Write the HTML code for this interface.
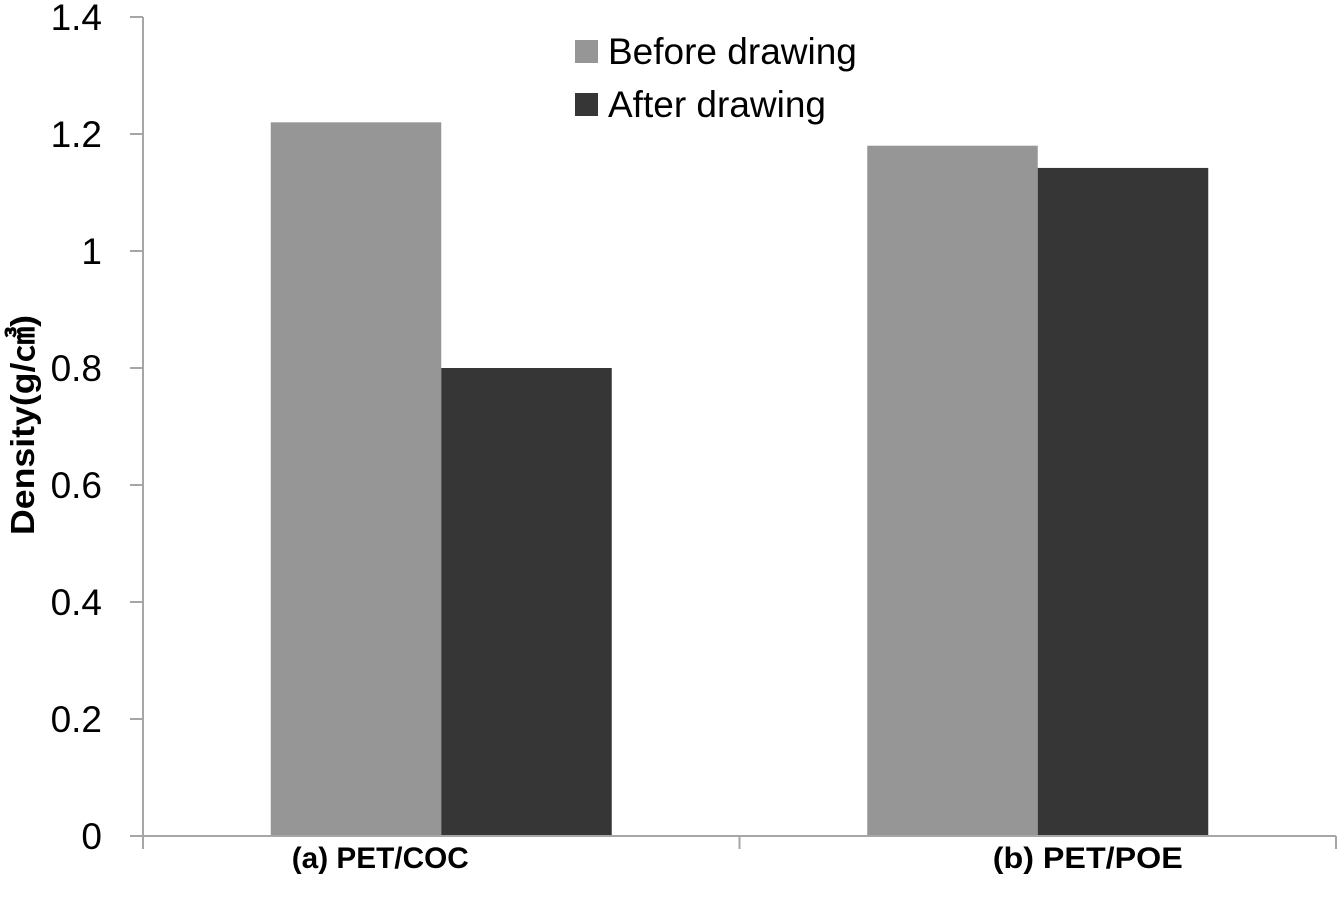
<!DOCTYPE html>
<html><head><meta charset="utf-8"><style>
html,body{margin:0;padding:0;background:#fff;}
svg{display:block;font-family:"Liberation Sans",sans-serif;}
</style></head><body>
<svg id="chart" width="1339" height="899"></svg>
<script>
const categories = ["(a) PET/COC", "(b) PET/POE"];
const beforeValues = [1.22, 1.18];
const afterValues = [0.80, 1.142];
const tickLabels = ["0", "0.2", "0.4", "0.6", "0.8", "1", "1.2", "1.4"];
const tickValues = [0, 0.2, 0.4, 0.6, 0.8, 1.0, 1.2, 1.4];

const NS = "http://www.w3.org/2000/svg";
const svg = document.getElementById("chart");
const x0 = 143, x1 = 1336, yBase = 836, yTop = 17, yMax = 1.4;
function yScale(v){ return yBase - (v / yMax) * (yBase - yTop); }
const catW = (x1 - x0) / categories.length;
function catCenter(i){ return x0 + catW * (i + 0.5); }
const barW = 170.5;
function mk(tag, attrs){ const e = document.createElementNS(NS, tag); for (const k in attrs) e.setAttribute(k, attrs[k]); svg.appendChild(e); return e; }

let yAxis = mk("line", {x1:x0, y1:yTop, x2:x0, y2:yBase, stroke:"#a6a6a6", "stroke-width":2});


tickValues.forEach((v, i) => {
  const y = yScale(v);
  const t = mk("line", {x1:x0-13, y1:y, x2:x0, y2:y, stroke:"#a6a6a6", "stroke-width":2});
  
  
  const l = mk("text", {x:102, y:y+13, "text-anchor":"end", "font-size":37, fill:"#000"});
  l.textContent = tickLabels[i];
  
  
});
categories.forEach((c, i) => {
  const cx = catCenter(i);
  const b = mk("rect", {x:cx-barW, y:yScale(beforeValues[i]), width:barW, height:yBase-yScale(beforeValues[i]), fill:"#969696"});
  
  
  const a = mk("rect", {x:cx, y:yScale(afterValues[i]), width:barW, height:yBase-yScale(afterValues[i]), fill:"#363636"});
  
  
  const lx = i === 0 ? cx - 61 : cx + 50;
  const l = mk("text", {x:lx, y:868, "text-anchor":"middle", "font-size":30, "font-weight":"bold", fill:"#000", textLength:i === 0 ? 177 : 190, lengthAdjust:"spacingAndGlyphs"});
  l.textContent = c;
  
  
});
let xAxis = mk("line", {x1:x0, y1:yBase, x2:x1, y2:yBase, stroke:"#a6a6a6", "stroke-width":2});


for (let i = 0; i <= categories.length; i++) {
  const x = x0 + catW * i;
  const t = mk("line", {x1:x, y1:yBase, x2:x, y2:849, stroke:"#a6a6a6", "stroke-width":2});
  
  
}
let yt = mk("text", {x:0, y:0, transform:"translate(34,425) rotate(-90)", "text-anchor":"middle", "font-size":33, "font-weight":"bold", fill:"#000", textLength:220, lengthAdjust:"spacingAndGlyphs"});
yt.textContent = "Density(g/㎤)";


[["Before drawing", "#969696", 40], ["After drawing", "#363636", 93]].forEach((d, i) => {
  const r = mk("rect", {x:575, y:d[2], width:23, height:23, fill:d[1]});
  
  
  const t = mk("text", {x:608, y:d[2]+24, "font-size":37, fill:"#000"});
  t.textContent = d[0];
  
  
});
</script>
</body></html>
